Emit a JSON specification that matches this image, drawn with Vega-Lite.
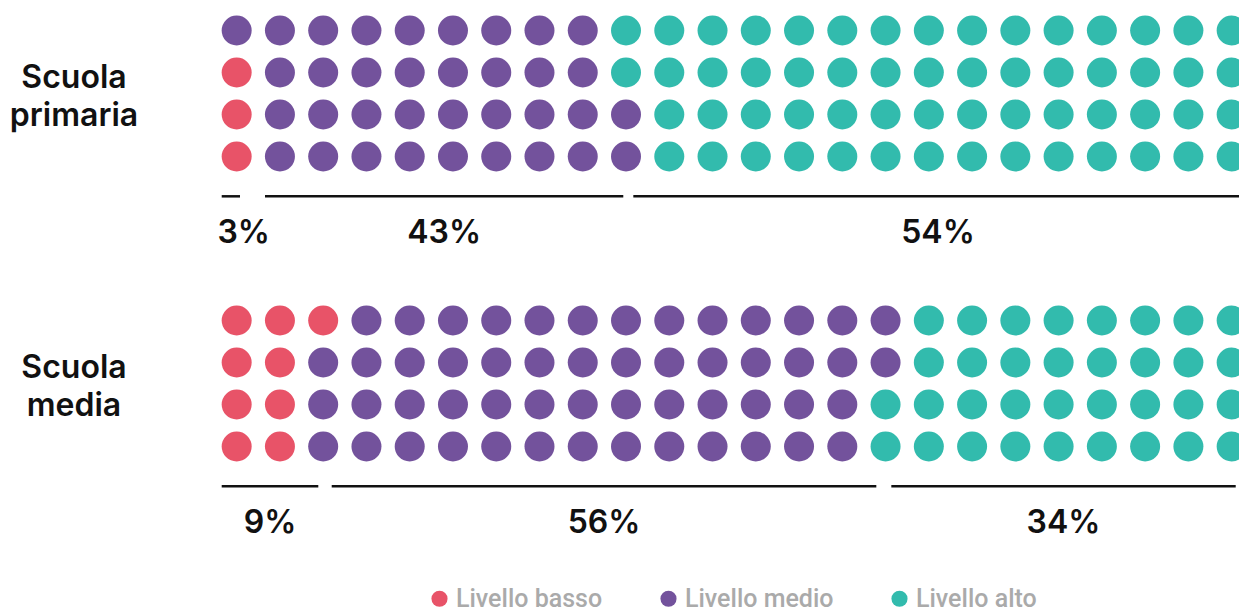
{
  "$schema": "https://vega.github.io/schema/vega-lite/v6.json",
  "padding": 0,
  "autosize": {"type": "pad"},
  "background": "white",
  "spacing": 0,
  "data": {"values": [
    {"k":"d","g":"P","r":1,"c":1,"l":"Livello medio"},{"k":"d","g":"P","r":1,"c":2,"l":"Livello medio"},{"k":"d","g":"P","r":1,"c":3,"l":"Livello medio"},{"k":"d","g":"P","r":1,"c":4,"l":"Livello medio"},{"k":"d","g":"P","r":1,"c":5,"l":"Livello medio"},{"k":"d","g":"P","r":1,"c":6,"l":"Livello medio"},{"k":"d","g":"P","r":1,"c":7,"l":"Livello medio"},{"k":"d","g":"P","r":1,"c":8,"l":"Livello medio"},{"k":"d","g":"P","r":1,"c":9,"l":"Livello medio"},
    {"k":"d","g":"P","r":1,"c":10,"l":"Livello alto"},{"k":"d","g":"P","r":1,"c":11,"l":"Livello alto"},{"k":"d","g":"P","r":1,"c":12,"l":"Livello alto"},{"k":"d","g":"P","r":1,"c":13,"l":"Livello alto"},{"k":"d","g":"P","r":1,"c":14,"l":"Livello alto"},{"k":"d","g":"P","r":1,"c":15,"l":"Livello alto"},{"k":"d","g":"P","r":1,"c":16,"l":"Livello alto"},{"k":"d","g":"P","r":1,"c":17,"l":"Livello alto"},{"k":"d","g":"P","r":1,"c":18,"l":"Livello alto"},{"k":"d","g":"P","r":1,"c":19,"l":"Livello alto"},{"k":"d","g":"P","r":1,"c":20,"l":"Livello alto"},{"k":"d","g":"P","r":1,"c":21,"l":"Livello alto"},{"k":"d","g":"P","r":1,"c":22,"l":"Livello alto"},{"k":"d","g":"P","r":1,"c":23,"l":"Livello alto"},{"k":"d","g":"P","r":1,"c":24,"l":"Livello alto"},
    {"k":"d","g":"P","r":2,"c":1,"l":"Livello basso"},
    {"k":"d","g":"P","r":2,"c":2,"l":"Livello medio"},{"k":"d","g":"P","r":2,"c":3,"l":"Livello medio"},{"k":"d","g":"P","r":2,"c":4,"l":"Livello medio"},{"k":"d","g":"P","r":2,"c":5,"l":"Livello medio"},{"k":"d","g":"P","r":2,"c":6,"l":"Livello medio"},{"k":"d","g":"P","r":2,"c":7,"l":"Livello medio"},{"k":"d","g":"P","r":2,"c":8,"l":"Livello medio"},{"k":"d","g":"P","r":2,"c":9,"l":"Livello medio"},
    {"k":"d","g":"P","r":2,"c":10,"l":"Livello alto"},{"k":"d","g":"P","r":2,"c":11,"l":"Livello alto"},{"k":"d","g":"P","r":2,"c":12,"l":"Livello alto"},{"k":"d","g":"P","r":2,"c":13,"l":"Livello alto"},{"k":"d","g":"P","r":2,"c":14,"l":"Livello alto"},{"k":"d","g":"P","r":2,"c":15,"l":"Livello alto"},{"k":"d","g":"P","r":2,"c":16,"l":"Livello alto"},{"k":"d","g":"P","r":2,"c":17,"l":"Livello alto"},{"k":"d","g":"P","r":2,"c":18,"l":"Livello alto"},{"k":"d","g":"P","r":2,"c":19,"l":"Livello alto"},{"k":"d","g":"P","r":2,"c":20,"l":"Livello alto"},{"k":"d","g":"P","r":2,"c":21,"l":"Livello alto"},{"k":"d","g":"P","r":2,"c":22,"l":"Livello alto"},{"k":"d","g":"P","r":2,"c":23,"l":"Livello alto"},{"k":"d","g":"P","r":2,"c":24,"l":"Livello alto"},
    {"k":"d","g":"P","r":3,"c":1,"l":"Livello basso"},
    {"k":"d","g":"P","r":3,"c":2,"l":"Livello medio"},{"k":"d","g":"P","r":3,"c":3,"l":"Livello medio"},{"k":"d","g":"P","r":3,"c":4,"l":"Livello medio"},{"k":"d","g":"P","r":3,"c":5,"l":"Livello medio"},{"k":"d","g":"P","r":3,"c":6,"l":"Livello medio"},{"k":"d","g":"P","r":3,"c":7,"l":"Livello medio"},{"k":"d","g":"P","r":3,"c":8,"l":"Livello medio"},{"k":"d","g":"P","r":3,"c":9,"l":"Livello medio"},{"k":"d","g":"P","r":3,"c":10,"l":"Livello medio"},
    {"k":"d","g":"P","r":3,"c":11,"l":"Livello alto"},{"k":"d","g":"P","r":3,"c":12,"l":"Livello alto"},{"k":"d","g":"P","r":3,"c":13,"l":"Livello alto"},{"k":"d","g":"P","r":3,"c":14,"l":"Livello alto"},{"k":"d","g":"P","r":3,"c":15,"l":"Livello alto"},{"k":"d","g":"P","r":3,"c":16,"l":"Livello alto"},{"k":"d","g":"P","r":3,"c":17,"l":"Livello alto"},{"k":"d","g":"P","r":3,"c":18,"l":"Livello alto"},{"k":"d","g":"P","r":3,"c":19,"l":"Livello alto"},{"k":"d","g":"P","r":3,"c":20,"l":"Livello alto"},{"k":"d","g":"P","r":3,"c":21,"l":"Livello alto"},{"k":"d","g":"P","r":3,"c":22,"l":"Livello alto"},{"k":"d","g":"P","r":3,"c":23,"l":"Livello alto"},{"k":"d","g":"P","r":3,"c":24,"l":"Livello alto"},
    {"k":"d","g":"P","r":4,"c":1,"l":"Livello basso"},
    {"k":"d","g":"P","r":4,"c":2,"l":"Livello medio"},{"k":"d","g":"P","r":4,"c":3,"l":"Livello medio"},{"k":"d","g":"P","r":4,"c":4,"l":"Livello medio"},{"k":"d","g":"P","r":4,"c":5,"l":"Livello medio"},{"k":"d","g":"P","r":4,"c":6,"l":"Livello medio"},{"k":"d","g":"P","r":4,"c":7,"l":"Livello medio"},{"k":"d","g":"P","r":4,"c":8,"l":"Livello medio"},{"k":"d","g":"P","r":4,"c":9,"l":"Livello medio"},{"k":"d","g":"P","r":4,"c":10,"l":"Livello medio"},
    {"k":"d","g":"P","r":4,"c":11,"l":"Livello alto"},{"k":"d","g":"P","r":4,"c":12,"l":"Livello alto"},{"k":"d","g":"P","r":4,"c":13,"l":"Livello alto"},{"k":"d","g":"P","r":4,"c":14,"l":"Livello alto"},{"k":"d","g":"P","r":4,"c":15,"l":"Livello alto"},{"k":"d","g":"P","r":4,"c":16,"l":"Livello alto"},{"k":"d","g":"P","r":4,"c":17,"l":"Livello alto"},{"k":"d","g":"P","r":4,"c":18,"l":"Livello alto"},{"k":"d","g":"P","r":4,"c":19,"l":"Livello alto"},{"k":"d","g":"P","r":4,"c":20,"l":"Livello alto"},{"k":"d","g":"P","r":4,"c":21,"l":"Livello alto"},{"k":"d","g":"P","r":4,"c":22,"l":"Livello alto"},{"k":"d","g":"P","r":4,"c":23,"l":"Livello alto"},{"k":"d","g":"P","r":4,"c":24,"l":"Livello alto"},

    {"k":"d","g":"M","r":1,"c":1,"l":"Livello basso"},{"k":"d","g":"M","r":1,"c":2,"l":"Livello basso"},{"k":"d","g":"M","r":1,"c":3,"l":"Livello basso"},
    {"k":"d","g":"M","r":1,"c":4,"l":"Livello medio"},{"k":"d","g":"M","r":1,"c":5,"l":"Livello medio"},{"k":"d","g":"M","r":1,"c":6,"l":"Livello medio"},{"k":"d","g":"M","r":1,"c":7,"l":"Livello medio"},{"k":"d","g":"M","r":1,"c":8,"l":"Livello medio"},{"k":"d","g":"M","r":1,"c":9,"l":"Livello medio"},{"k":"d","g":"M","r":1,"c":10,"l":"Livello medio"},{"k":"d","g":"M","r":1,"c":11,"l":"Livello medio"},{"k":"d","g":"M","r":1,"c":12,"l":"Livello medio"},{"k":"d","g":"M","r":1,"c":13,"l":"Livello medio"},{"k":"d","g":"M","r":1,"c":14,"l":"Livello medio"},{"k":"d","g":"M","r":1,"c":15,"l":"Livello medio"},{"k":"d","g":"M","r":1,"c":16,"l":"Livello medio"},
    {"k":"d","g":"M","r":1,"c":17,"l":"Livello alto"},{"k":"d","g":"M","r":1,"c":18,"l":"Livello alto"},{"k":"d","g":"M","r":1,"c":19,"l":"Livello alto"},{"k":"d","g":"M","r":1,"c":20,"l":"Livello alto"},{"k":"d","g":"M","r":1,"c":21,"l":"Livello alto"},{"k":"d","g":"M","r":1,"c":22,"l":"Livello alto"},{"k":"d","g":"M","r":1,"c":23,"l":"Livello alto"},{"k":"d","g":"M","r":1,"c":24,"l":"Livello alto"},
    {"k":"d","g":"M","r":2,"c":1,"l":"Livello basso"},{"k":"d","g":"M","r":2,"c":2,"l":"Livello basso"},
    {"k":"d","g":"M","r":2,"c":3,"l":"Livello medio"},{"k":"d","g":"M","r":2,"c":4,"l":"Livello medio"},{"k":"d","g":"M","r":2,"c":5,"l":"Livello medio"},{"k":"d","g":"M","r":2,"c":6,"l":"Livello medio"},{"k":"d","g":"M","r":2,"c":7,"l":"Livello medio"},{"k":"d","g":"M","r":2,"c":8,"l":"Livello medio"},{"k":"d","g":"M","r":2,"c":9,"l":"Livello medio"},{"k":"d","g":"M","r":2,"c":10,"l":"Livello medio"},{"k":"d","g":"M","r":2,"c":11,"l":"Livello medio"},{"k":"d","g":"M","r":2,"c":12,"l":"Livello medio"},{"k":"d","g":"M","r":2,"c":13,"l":"Livello medio"},{"k":"d","g":"M","r":2,"c":14,"l":"Livello medio"},{"k":"d","g":"M","r":2,"c":15,"l":"Livello medio"},{"k":"d","g":"M","r":2,"c":16,"l":"Livello medio"},
    {"k":"d","g":"M","r":2,"c":17,"l":"Livello alto"},{"k":"d","g":"M","r":2,"c":18,"l":"Livello alto"},{"k":"d","g":"M","r":2,"c":19,"l":"Livello alto"},{"k":"d","g":"M","r":2,"c":20,"l":"Livello alto"},{"k":"d","g":"M","r":2,"c":21,"l":"Livello alto"},{"k":"d","g":"M","r":2,"c":22,"l":"Livello alto"},{"k":"d","g":"M","r":2,"c":23,"l":"Livello alto"},{"k":"d","g":"M","r":2,"c":24,"l":"Livello alto"},
    {"k":"d","g":"M","r":3,"c":1,"l":"Livello basso"},{"k":"d","g":"M","r":3,"c":2,"l":"Livello basso"},
    {"k":"d","g":"M","r":3,"c":3,"l":"Livello medio"},{"k":"d","g":"M","r":3,"c":4,"l":"Livello medio"},{"k":"d","g":"M","r":3,"c":5,"l":"Livello medio"},{"k":"d","g":"M","r":3,"c":6,"l":"Livello medio"},{"k":"d","g":"M","r":3,"c":7,"l":"Livello medio"},{"k":"d","g":"M","r":3,"c":8,"l":"Livello medio"},{"k":"d","g":"M","r":3,"c":9,"l":"Livello medio"},{"k":"d","g":"M","r":3,"c":10,"l":"Livello medio"},{"k":"d","g":"M","r":3,"c":11,"l":"Livello medio"},{"k":"d","g":"M","r":3,"c":12,"l":"Livello medio"},{"k":"d","g":"M","r":3,"c":13,"l":"Livello medio"},{"k":"d","g":"M","r":3,"c":14,"l":"Livello medio"},{"k":"d","g":"M","r":3,"c":15,"l":"Livello medio"},
    {"k":"d","g":"M","r":3,"c":16,"l":"Livello alto"},{"k":"d","g":"M","r":3,"c":17,"l":"Livello alto"},{"k":"d","g":"M","r":3,"c":18,"l":"Livello alto"},{"k":"d","g":"M","r":3,"c":19,"l":"Livello alto"},{"k":"d","g":"M","r":3,"c":20,"l":"Livello alto"},{"k":"d","g":"M","r":3,"c":21,"l":"Livello alto"},{"k":"d","g":"M","r":3,"c":22,"l":"Livello alto"},{"k":"d","g":"M","r":3,"c":23,"l":"Livello alto"},{"k":"d","g":"M","r":3,"c":24,"l":"Livello alto"},
    {"k":"d","g":"M","r":4,"c":1,"l":"Livello basso"},{"k":"d","g":"M","r":4,"c":2,"l":"Livello basso"},
    {"k":"d","g":"M","r":4,"c":3,"l":"Livello medio"},{"k":"d","g":"M","r":4,"c":4,"l":"Livello medio"},{"k":"d","g":"M","r":4,"c":5,"l":"Livello medio"},{"k":"d","g":"M","r":4,"c":6,"l":"Livello medio"},{"k":"d","g":"M","r":4,"c":7,"l":"Livello medio"},{"k":"d","g":"M","r":4,"c":8,"l":"Livello medio"},{"k":"d","g":"M","r":4,"c":9,"l":"Livello medio"},{"k":"d","g":"M","r":4,"c":10,"l":"Livello medio"},{"k":"d","g":"M","r":4,"c":11,"l":"Livello medio"},{"k":"d","g":"M","r":4,"c":12,"l":"Livello medio"},{"k":"d","g":"M","r":4,"c":13,"l":"Livello medio"},{"k":"d","g":"M","r":4,"c":14,"l":"Livello medio"},{"k":"d","g":"M","r":4,"c":15,"l":"Livello medio"},
    {"k":"d","g":"M","r":4,"c":16,"l":"Livello alto"},{"k":"d","g":"M","r":4,"c":17,"l":"Livello alto"},{"k":"d","g":"M","r":4,"c":18,"l":"Livello alto"},{"k":"d","g":"M","r":4,"c":19,"l":"Livello alto"},{"k":"d","g":"M","r":4,"c":20,"l":"Livello alto"},{"k":"d","g":"M","r":4,"c":21,"l":"Livello alto"},{"k":"d","g":"M","r":4,"c":22,"l":"Livello alto"},{"k":"d","g":"M","r":4,"c":23,"l":"Livello alto"},{"k":"d","g":"M","r":4,"c":24,"l":"Livello alto"},

    {"k":"s","g":"P","l":"Livello basso","s":0.654,"e":1.077,"p":0.03,"t":"Scuola primaria"},
    {"k":"s","g":"P","l":"Livello medio","s":1.655,"e":9.937,"p":0.43},
    {"k":"s","g":"P","l":"Livello alto","s":10.169,"e":24.255,"p":0.54},
    {"k":"s","g":"M","l":"Livello basso","s":0.654,"e":2.887,"p":0.09,"t":"Scuola media"},
    {"k":"s","g":"M","l":"Livello medio","s":3.197,"e":15.786,"p":0.56},
    {"k":"s","g":"M","l":"Livello alto","s":16.133,"e":24.094,"p":0.34}
  ]},
  "facet": {"row": {"field": "g", "type": "nominal", "sort": ["P", "M"], "header": {"title": null, "labels": false}}},
  "spec": {
    "width": 1239,
    "height": 290,
    "layer": [
      {
        "transform": [{"filter": "datum.k == 'd'"}],
        "mark": {"type": "circle", "size": 900, "opacity": 1, "strokeWidth": 0},
        "encoding": {
          "x": {"field": "c", "type": "quantitative", "scale": {"domain": [-4.4709, 24.1699], "nice": false, "zero": false}, "axis": null},
          "y": {"field": "r", "type": "quantitative", "scale": {"domain": [0.27381, 7.17857], "nice": false, "zero": false, "reverse": true}, "axis": null},
          "color": {
            "field": "l", "type": "nominal",
            "scale": {"domain": ["Livello basso", "Livello medio", "Livello alto"], "range": ["#e85368", "#73529c", "#32bbad"]},
            "legend": {
              "orient": "none", "legendX": 427, "legendY": 586, "direction": "horizontal", "title": null,
              "symbolType": "circle", "symbolSize": 260, "symbolOpacity": 1, "symbolStrokeWidth": 0,
              "labelFont": "Roboto", "labelFontSize": 25, "labelFontWeight": 500, "labelColor": "#aaaaaa", "labelOffset": 4,
              "columnPadding": 53
            }
          }
        }
      },
      {
        "transform": [{"filter": "datum.k == 's'"}],
        "mark": {"type": "rule", "strokeWidth": 2.5, "color": "#111111"},
        "encoding": {
          "x": {"field": "s", "type": "quantitative", "scale": {"domain": [-4.4709, 24.1699], "nice": false, "zero": false}, "axis": null},
          "x2": {"field": "e"},
          "y": {"datum": 4.948, "type": "quantitative", "scale": {"domain": [0.27381, 7.17857], "nice": false, "zero": false, "reverse": true}, "axis": null}
        }
      },
      {
        "transform": [{"filter": "datum.k == 's'"}, {"calculate": "max((datum.s + datum.e) / 2, datum.s + 0.508)", "as": "m"}],
        "mark": {"type": "text", "font": "Inter", "fontSize": 32, "fontWeight": 600, "color": "#111111", "align": "center", "baseline": "alphabetic"},
        "encoding": {
          "x": {"field": "m", "type": "quantitative", "scale": {"domain": [-4.4709, 24.1699], "nice": false, "zero": false}, "axis": null},
          "y": {"datum": 6.067, "type": "quantitative", "scale": {"domain": [0.27381, 7.17857], "nice": false, "zero": false, "reverse": true}, "axis": null},
          "text": {"field": "p", "type": "quantitative", "format": ".0%"}
        }
      },
      {
        "transform": [{"filter": "datum.k == 's' && datum.l == 'Livello basso'"}],
        "mark": {"type": "text", "font": "Inter", "fontSize": 32, "fontWeight": 600, "color": "#111111", "align": "center", "baseline": "alphabetic", "lineBreak": " ", "lineHeight": 38.3},
        "encoding": {
          "x": {"datum": -2.76, "type": "quantitative", "scale": {"domain": [-4.4709, 24.1699], "nice": false, "zero": false}, "axis": null},
          "y": {"datum": 2.362, "type": "quantitative", "scale": {"domain": [0.27381, 7.17857], "nice": false, "zero": false, "reverse": true}, "axis": null},
          "text": {"field": "t"}
        }
      }
    ]
  },
  "config": {"view": {"stroke": null}, "font": "Inter"}
}
